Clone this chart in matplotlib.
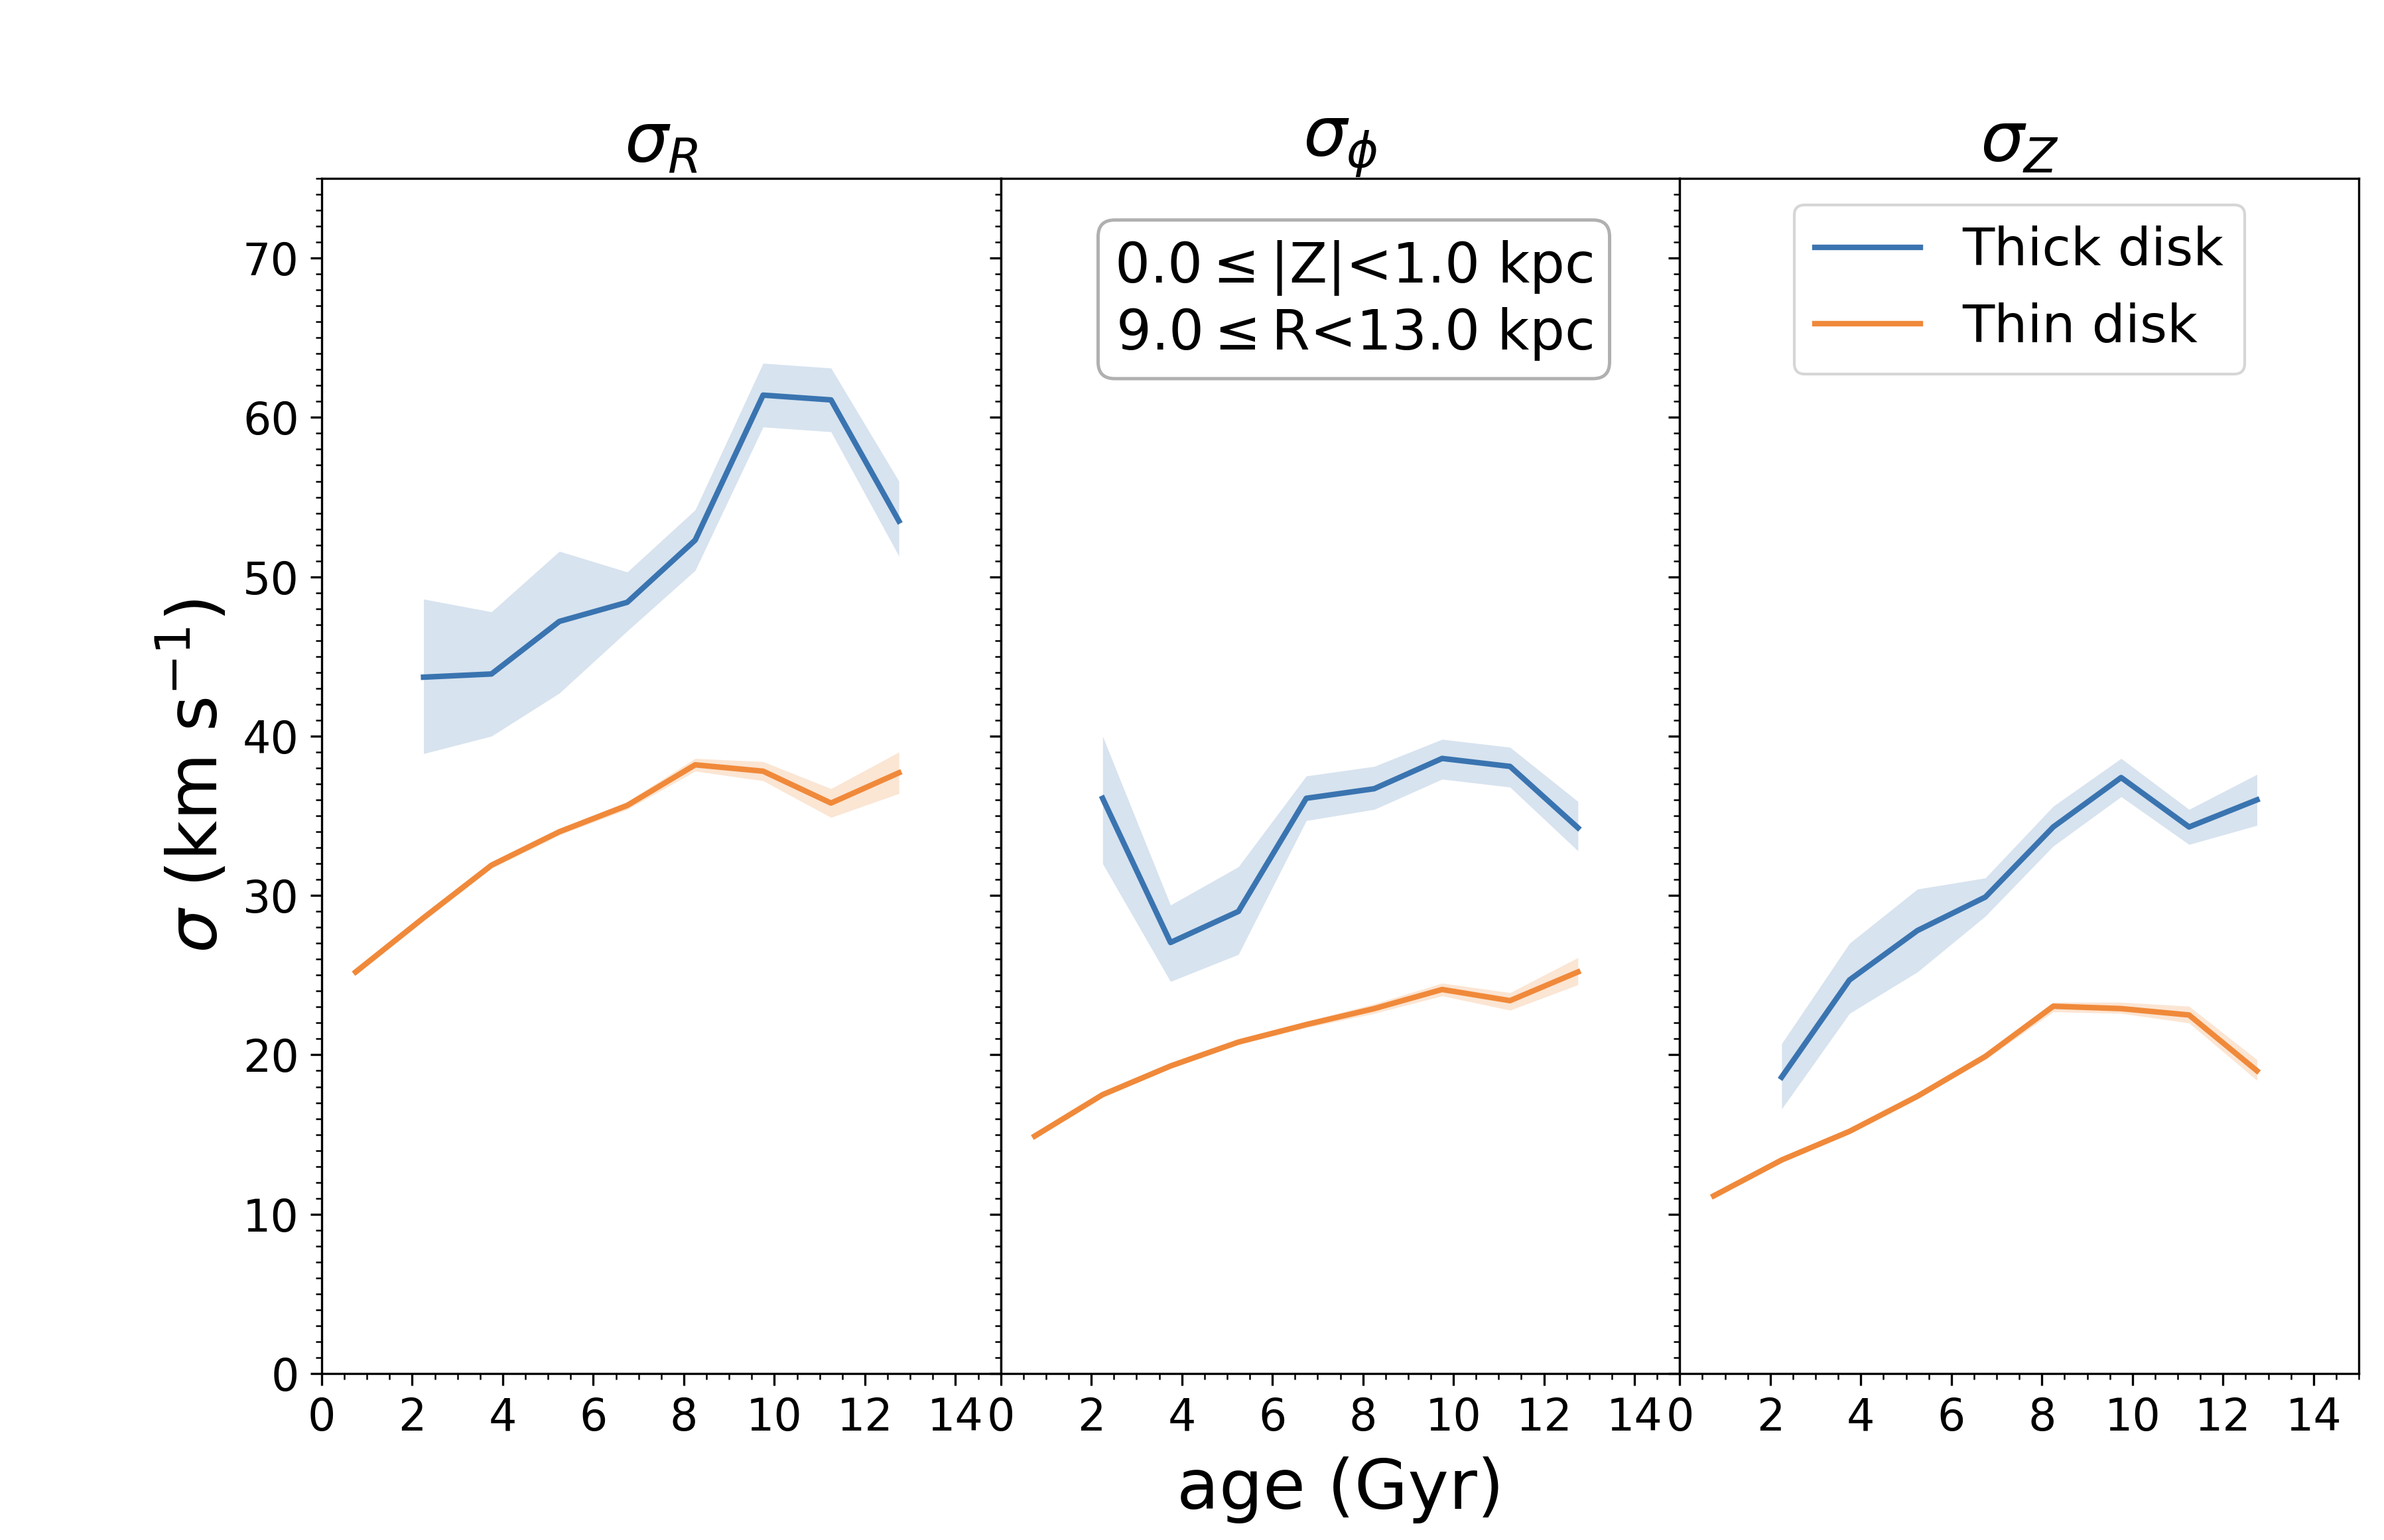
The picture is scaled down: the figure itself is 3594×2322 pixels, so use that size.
import numpy as np
import matplotlib
matplotlib.use("Agg")
import matplotlib.pyplot as plt
from matplotlib.ticker import MultipleLocator

# age bin centres (Gyr)
age_thin = [0.75, 2.25, 3.75, 5.25, 6.75, 8.25, 9.75, 11.25, 12.75]
age_thick = [2.25, 3.75, 5.25, 6.75, 8.25, 9.75, 11.25, 12.75]

# sigma_R
thick_R = [43.7, 43.9, 47.2, 48.4, 52.3, 61.4, 61.1, 53.5]
thick_R_hi = [48.6, 47.8, 51.6, 50.3, 54.2, 63.4, 63.1, 56.0]
thick_R_lo = [38.9, 40.0, 42.7, 46.6, 50.4, 59.4, 59.1, 51.3]
thin_R = [25.2, 28.6, 31.9, 34.0, 35.65, 38.2, 37.8, 35.8, 37.7]
thin_R_hi = [25.4, 28.8, 32.1, 34.2, 35.9, 38.6, 38.4, 36.7, 39.0]
thin_R_lo = [25.0, 28.4, 31.7, 33.8, 35.4, 37.8, 37.2, 34.9, 36.4]

# sigma_phi
thick_P = [36.1, 27.05, 29.0, 36.1, 36.7, 38.6, 38.1, 34.25]
thick_P_hi = [40.0, 29.4, 31.8, 37.5, 38.1, 39.8, 39.3, 35.9]
thick_P_lo = [32.0, 24.6, 26.3, 34.7, 35.4, 37.3, 36.8, 32.8]
thin_P = [14.9, 17.5, 19.3, 20.8, 21.9, 22.9, 24.1, 23.4, 25.2]
thin_P_hi = [15.05, 17.65, 19.45, 20.95, 22.1, 23.2, 24.5, 23.9, 26.1]
thin_P_lo = [14.75, 17.35, 19.15, 20.65, 21.7, 22.6, 23.7, 22.8, 24.4]

# sigma_Z
thick_Z = [18.6, 24.7, 27.8, 29.9, 34.3, 37.4, 34.3, 36.0]
thick_Z_hi = [20.7, 27.0, 30.4, 31.1, 35.6, 38.6, 35.4, 37.6]
thick_Z_lo = [16.6, 22.6, 25.2, 28.7, 33.1, 36.2, 33.2, 34.4]
thin_Z = [11.15, 13.4, 15.2, 17.4, 19.9, 23.05, 22.9, 22.5, 19.0]
thin_Z_hi = [11.3, 13.55, 15.35, 17.55, 20.1, 23.3, 23.3, 23.05, 19.7]
thin_Z_lo = [11.0, 13.25, 15.05, 17.25, 19.7, 22.7, 22.6, 22.0, 18.4]

titles = [r'$\sigma_R$', r'$\sigma_\phi$', r'$\sigma_Z$']
blue = '#3A74B0'
orange = '#F0893A'

panels = [
    (thick_R, thick_R_lo, thick_R_hi, thin_R, thin_R_lo, thin_R_hi),
    (thick_P, thick_P_lo, thick_P_hi, thin_P, thin_P_lo, thin_P_hi),
    (thick_Z, thick_Z_lo, thick_Z_hi, thin_Z, thin_Z_lo, thin_Z_hi),
]

fig, axes = plt.subplots(1, 3, figsize=(11.98, 7.74), dpi=300, sharey=True)
fig.subplots_adjust(left=0.13495, right=0.98943, bottom=0.1081, top=0.88415, wspace=0)

for ax, title, (tk, tk_lo, tk_hi, tn, tn_lo, tn_hi) in zip(axes, titles, panels):
    ax.fill_between(age_thick, tk_lo, tk_hi, color=blue, alpha=0.2, lw=0)
    ax.plot(age_thick, tk, color=blue, lw=2, label='Thick disk')
    ax.fill_between(age_thin, tn_lo, tn_hi, color=orange, alpha=0.22, lw=0)
    ax.plot(age_thin, tn, color=orange, lw=2, label='Thin disk')
    ax.set_title(title, fontsize=25)
    ax.set_xlim(0, 15)
    ax.set_ylim(0, 75)
    ax.xaxis.set_major_locator(MultipleLocator(2))
    ax.xaxis.set_minor_locator(MultipleLocator(0.5))
    ax.yaxis.set_major_locator(MultipleLocator(10))
    ax.yaxis.set_minor_locator(MultipleLocator(1))
    ax.tick_params(which='major', labelsize=16, length=4.2, pad=4)
    ax.tick_params(which='minor', length=2.2)

axes[0].set_ylabel(r'$\sigma$ (km s$^{-1}$)', fontsize=25)
axes[1].set_xlabel('age (Gyr)', fontsize=25, labelpad=6)

axes[1].text(0.52, 0.898, '0.0$\\leq$|Z|<1.0 kpc\n9.0$\\leq$R<13.0 kpc',
             transform=axes[1].transAxes, ha='center', va='center', fontsize=20,
             bbox=dict(boxstyle='round', fc='white', ec='#b0b0b0', lw=1.2))

axes[2].legend(loc='upper center', fontsize=19)

fig.savefig('out.png', dpi=300)
